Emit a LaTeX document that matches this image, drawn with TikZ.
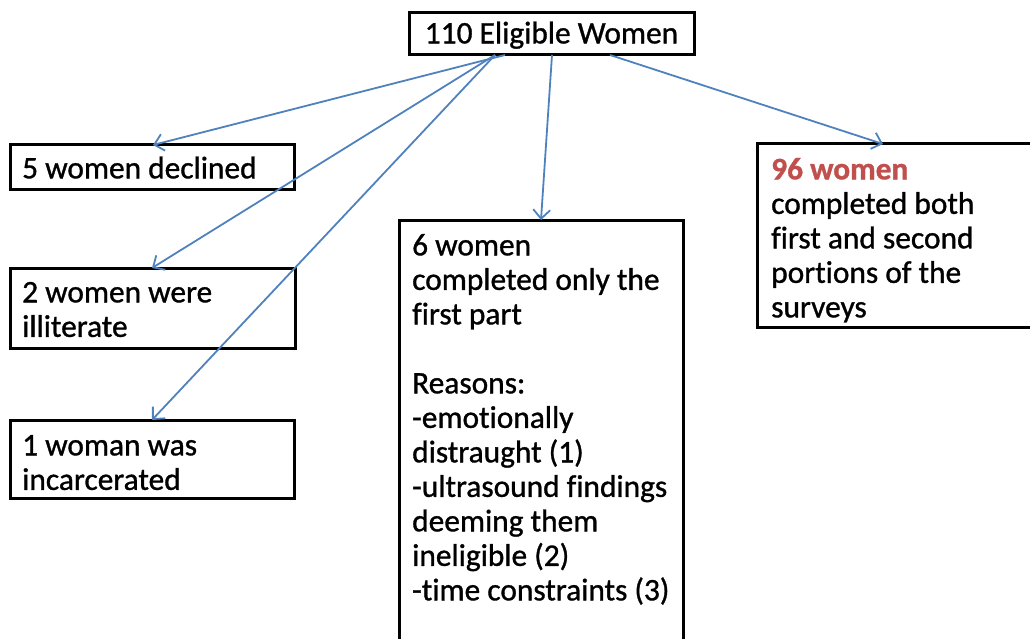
\documentclass[tikz,border=0pt]{standalone}
\usepackage{fontspec}
\setmainfont{Carlito}[Ligatures=NoCommon, UprightFeatures={FakeBold=1}, BoldFeatures={FakeBold=1}]
\usetikzlibrary{arrows.meta}
\definecolor{arrowblue}{RGB}{79,129,189}
\definecolor{redtext}{RGB}{192,80,77}
\begin{document}
\begin{tikzpicture}[x=1pt,y=-1pt,
  box/.style={draw=black, line width=3pt, rectangle, inner sep=0pt, outer sep=0pt, anchor=north west},
  txt/.style={anchor=north west, inner sep=0pt, align=left, text width=#1, font=\fontsize{31.4}{34.5}\selectfont, execute at begin node={\spaceskip=0pt\xspaceskip=0pt\strut}},
  conn/.style={draw=arrowblue, line width=1.8pt, -{Straight Barb[length=9pt,width=17pt,line width=1.8pt]}}]
\useasboundingbox (0,0) rectangle (1030,639);

% boxes
\node[box, minimum width=285pt, minimum height=42pt, font=\fontsize{31.4}{34.5}\selectfont, text depth=3pt] (top) at (409,13) {110 Eligible Women};
\node[box, minimum width=284pt, minimum height=45pt] (b1) at (10,145) {};
\node[box, minimum width=285pt, minimum height=80pt] (b2) at (10,268) {};
\node[box, minimum width=284pt, minimum height=78pt] (b3) at (10,420) {};
\node[box, minimum width=284pt, minimum height=450pt] (mid) at (399,220) {};
\node[box, minimum width=300pt, minimum height=183pt] (right) at (757,144) {};

% texts
\node[txt=270pt] (t1) at (22,154) {5 women declined};
\node[txt=270pt] (t2) at (22,278) {2 women were\\illiterate};
\node[txt=270pt] (t3) at (22,431) {1 woman was\\incarcerated};
\node[txt=270pt] (tm) at (412,231) {6 women\\completed only the\\first part\\\mbox{}\\Reasons:\\-emotionally\\distraught (1)\\-ultrasound findings\\deeming them\\ineligible (2)\\-time constraints (3)};
\node[txt=255pt] (tr) at (771,155) {{\bfseries\color{redtext}96 women}\\completed both\\first and second\\portions of the\\surveys};

% connectors
\draw[conn] ([xshift=96pt]top.south west) -- ([xshift=143pt]b1.north west);
\draw[conn] ([xshift=86pt]top.south west) -- ([xshift=142pt]b2.north west);
\draw[conn] ([xshift=86pt]top.south west) -- ([xshift=142pt]b3.north west);
\draw[conn] ([xshift=143pt]top.south west) -- ([xshift=142pt]mid.north west);
\draw[conn] ([xshift=201pt]top.south west) -- ([xshift=126pt]right.north west);
\end{tikzpicture}
\end{document}
